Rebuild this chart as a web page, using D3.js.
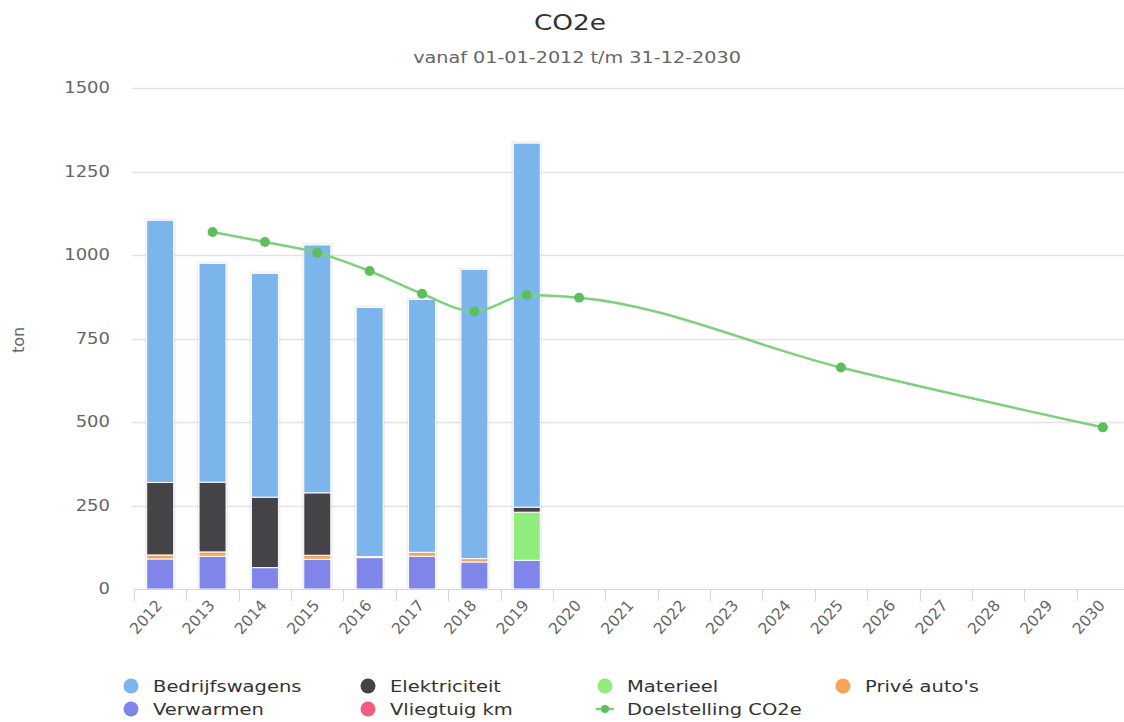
<!DOCTYPE html>
<html>
<head>
<meta charset="utf-8">
<script src="https://cdn.jsdelivr.net/npm/d3@7"></script>
<style>
  body { margin: 0; background: #fff; }
  text { font-family: "DejaVu Sans", sans-serif; }
</style>
</head>
<body>
<div id="chart"></div>
<script>
// data
var years = ['2012','2013','2014','2015','2016','2017','2018','2019','2020','2021','2022','2023','2024','2025','2026','2027','2028','2029','2030'];
var seriesNames = ['Bedrijfswagens','Elektriciteit','Materieel',"Privé auto's",'Verwarmen','Vliegtuig km'];
var seriesColors = ['#7cb5ec','#434348','#90ed7d','#f7a35c','#8085e9','#f15c80'];
var bedrijfswagens = [785, 655, 670, 742, 746, 757, 866, 1090];
var elektriciteit  = [217, 209, 211, 187, 0, 0, 0, 15];
var materieel      = [0, 0, 0, 0, 0, 0, 0, 144];
var priveAutos     = [12, 13, 0, 12, 3, 12, 10, 0];
var verwarmen      = [90, 98, 64, 89, 94, 98, 81, 86];
var vliegtuigKm    = [0, 0, 0, 0, 0, 0, 0, 0];
var doelYears  = ['2013','2014','2015','2016','2017','2018','2019','2020','2025','2030'];
var doelValues = [1069, 1039, 1007, 952, 884, 831, 880, 872, 663, 484];
var yTicks = [0, 250, 500, 750, 1000, 1250, 1500];

var W = 1124, H = 722;
var plotLeft = 134, plotRight = 1129, plotTop = 88, plotBottom = 589;
var sx = 1.2; // text in the picture is drawn a bit wide

var svg = d3.select('#chart').append('svg')
    .attr('width', W).attr('height', H);

var x = d3.scaleBand().domain(years).range([plotLeft, plotRight]).paddingInner(0).paddingOuter(0);
var y = d3.scaleLinear().domain([0, 1500]).range([plotBottom, plotTop]);

// title
svg.append('text').attr('transform', 'translate(570,30) scale(' + sx + ',1)')
   .attr('text-anchor','middle')
   .style('font-size','22px').attr('fill','#333').text('CO2e');
svg.append('text').attr('transform', 'translate(577,63) scale(' + sx + ',1)')
   .attr('text-anchor','middle')
   .style('font-size','16px').attr('fill','#666').text('vanaf 01-01-2012 t/m 31-12-2030');

// grid
svg.selectAll('.grid').data(yTicks.filter(function(d){ return d > 0; }))
  .enter().append('line')
    .attr('x1', plotLeft - 2).attr('x2', W)
    .attr('y1', function(d){ return Math.round(y(d)) + 0.5; })
    .attr('y2', function(d){ return Math.round(y(d)) + 0.5; })
    .attr('stroke', '#e3e3e3').attr('stroke-width', 1.3);

svg.selectAll('.ylab').data(yTicks)
  .enter().append('text')
    .attr('transform', function(d){ return 'translate(110,' + (y(d) + 5) + ') scale(' + sx + ',1)'; })
    .attr('text-anchor','end').style('font-size','15px').attr('fill','#666')
    .text(function(d){ return d; });

svg.append('text')
   .attr('transform','translate(24,' + 340 + ') rotate(-90)')
   .attr('text-anchor','middle').style('font-size','16px').attr('fill','#666')
   .text('ton');

// stacked bars
var barData = years.slice(0, 8).map(function(yr, i){
  return {
    year: yr,
    'Bedrijfswagens': bedrijfswagens[i],
    'Elektriciteit': elektriciteit[i],
    'Materieel': materieel[i],
    "Privé auto's": priveAutos[i],
    'Verwarmen': verwarmen[i],
    'Vliegtuig km': vliegtuigKm[i]
  };
});
function total(d){ var t = 0; seriesNames.forEach(function(k){ t += d[k]; }); return t; }
// first series ends on top, so stack in reverse
var stackKeys = seriesNames.slice().reverse();
var stacked = d3.stack().keys(stackKeys)(barData);

var barW = 27;
var g = svg.append('g');
// faint halo behind each bar
g.selectAll(null).data(barData)
  .enter().append('rect')
    .attr('x', function(d){ return x(d.year) + x.bandwidth() / 2 - barW / 2 - 2; })
    .attr('width', barW + 4)
    .attr('y', function(d){ return y(total(d)) - 2; })
    .attr('height', function(d){ return y(0) - y(total(d)) + 2; })
    .attr('fill', '#000').attr('fill-opacity', 0.06);
stacked.forEach(function(layer){
  var color = seriesColors[seriesNames.indexOf(layer.key)];
  g.selectAll(null).data(layer.filter(function(d){ return d[1] - d[0] > 0; }))
    .enter().append('rect')
      .attr('x', function(d){ return x(d.data.year) + x.bandwidth() / 2 - barW / 2; })
      .attr('width', barW)
      .attr('y', function(d){ return y(d[1]); })
      .attr('height', function(d){ return y(d[0]) - y(d[1]); })
      .attr('fill', color)
      .attr('stroke', '#fff').attr('stroke-width', 1);
});

// x axis
svg.append('line').attr('x1', plotLeft).attr('x2', W)
   .attr('y1', plotBottom + 0.5).attr('y2', plotBottom + 0.5)
   .attr('stroke', '#ccd6eb');
svg.selectAll('.xtick').data(years)
  .enter().append('line')
    .attr('x1', function(d){ return Math.round(x(d)) + 0.5; })
    .attr('x2', function(d){ return Math.round(x(d)) + 0.5; })
    .attr('y1', plotBottom).attr('y2', plotBottom + 12)
    .attr('stroke', '#ccd6eb');
svg.selectAll('.xlab').data(years)
  .enter().append('text')
    .attr('transform', function(d){
      return 'translate(' + (x(d) + x.bandwidth() / 2 + 3) + ',' + (plotBottom + 17) + ') rotate(-48)';
    })
    .attr('text-anchor','end').style('font-size','15.5px').attr('fill','#666')
    .text(function(d){ return d; });

// doelstelling line
var lineData = doelYears.map(function(yr, i){ return { year: yr, value: doelValues[i] }; });
var line = d3.line()
  .x(function(d){ return x(d.year) + x.bandwidth() / 2; })
  .y(function(d){ return y(d.value); })
  .curve(d3.curveMonotoneX);
svg.append('path').datum(lineData)
   .attr('d', line).attr('fill','none')
   .attr('stroke', '#7ed07e').attr('stroke-width', 2.5);
svg.selectAll('.dot').data(lineData)
  .enter().append('circle')
    .attr('cx', function(d){ return x(d.year) + x.bandwidth() / 2; })
    .attr('cy', function(d){ return y(d.value); })
    .attr('r', 5).attr('fill', '#5cbf5c');

// legend
var legendItems = [
  { name: 'Bedrijfswagens', color: seriesColors[0], col: 0, row: 0 },
  { name: 'Elektriciteit', color: seriesColors[1], col: 1, row: 0 },
  { name: 'Materieel', color: seriesColors[2], col: 2, row: 0 },
  { name: "Privé auto's", color: seriesColors[3], col: 3, row: 0 },
  { name: 'Verwarmen', color: seriesColors[4], col: 0, row: 1 },
  { name: 'Vliegtuig km', color: seriesColors[5], col: 1, row: 1 },
  { name: 'Doelstelling CO2e', color: '#5cbf5c', col: 2, row: 1, line: true }
];
var colX = [131, 368, 605, 843];
var lg = svg.selectAll('.legend').data(legendItems)
  .enter().append('g')
    .attr('transform', function(d){ return 'translate(' + colX[d.col] + ',' + (686 + d.row * 23) + ')'; });
lg.each(function(d){
  var s = d3.select(this);
  if (d.line) {
    s.append('line').attr('x1', -9).attr('x2', 9).attr('y1', 0).attr('y2', 0)
     .attr('stroke', '#7ed07e').attr('stroke-width', 2.5);
    s.append('circle').attr('r', 4).attr('fill', d.color);
  } else {
    s.append('circle').attr('r', 7.5).attr('fill', d.color);
  }
});
lg.append('text').attr('transform', 'translate(22,6) scale(1.22,1)')
  .style('font-size','16px').attr('fill','#333')
  .text(function(d){ return d.name; });
</script>
</body>
</html>
